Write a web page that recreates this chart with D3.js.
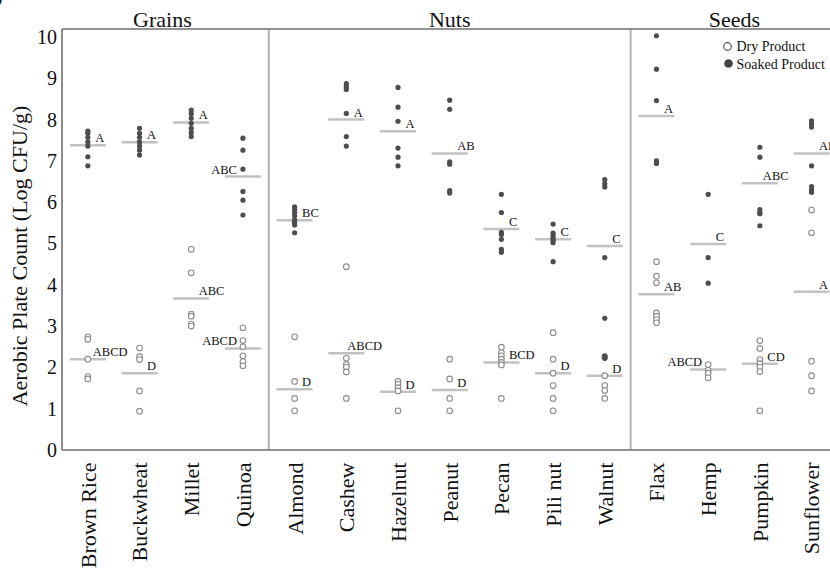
<!DOCTYPE html>
<html><head><meta charset="utf-8">
<script src="https://cdn.jsdelivr.net/npm/d3@7"></script>
<style>
body{margin:0;background:#fff}
svg{display:block}
svg text{font-family:'Liberation Serif','Tinos','Times New Roman','DejaVu Serif','Noto Serif',serif !important;fill:#111}
</style>
</head><body>
<svg id="c" width="830" height="568"></svg>
<script>
// ---------- data ----------
const categories = ["Brown Rice","Buckwheat","Millet","Quinoa","Almond","Cashew","Hazelnut","Peanut","Pecan","Pili nut","Walnut","Flax","Hemp","Pumpkin","Sunflower"];
const groupNames = ["Grains","Nuts","Seeds"];
const groupOf = ["Grains","Grains","Grains","Grains","Nuts","Nuts","Nuts","Nuts","Nuts","Nuts","Nuts","Seeds","Seeds","Seeds","Seeds"];

const dryValues = [
  [2.74,2.68,2.20,1.78,1.72],
  [2.47,2.26,2.19,1.43,0.94],
  [4.86,4.29,3.29,3.24,3.05,3.00],
  [2.96,2.65,2.50,2.28,2.14,2.04],
  [2.74,1.66,1.25,0.95],
  [4.44,2.22,2.07,2.01,1.89,1.25],
  [1.66,1.59,1.51,1.43,0.95],
  [2.20,1.72,1.25,0.95],
  [2.49,2.36,2.28,2.20,2.12,2.06,1.25],
  [2.84,2.20,1.86,1.56,1.25,0.95],
  [2.25,1.80,1.56,1.44,1.25],
  [4.56,4.21,4.05,3.32,3.24,3.16,3.08],
  [2.07,1.93,1.86,1.75],
  [2.65,2.46,2.19,2.09,2.01,1.90,0.95],
  [5.81,5.26,2.15,1.80,1.43]
];
const soakedValues = [
  [7.72,7.67,7.57,7.46,7.36,7.10,6.88],
  [7.79,7.67,7.57,7.46,7.36,7.26,7.14],
  [8.23,8.14,8.03,7.91,7.79,7.69,7.59],
  [7.55,7.26,6.80,6.26,6.05,5.69],
  [5.89,5.83,5.75,5.67,5.57,5.51,5.45,5.26],
  [8.87,8.80,8.73,8.15,7.59,7.36],
  [8.78,8.30,7.96,7.31,7.09,6.88],
  [8.47,8.25,6.98,6.92,6.28,6.22],
  [6.19,5.75,5.27,5.22,5.10,4.86,4.79],
  [5.47,5.25,5.18,5.13,5.07,5.02,4.56],
  [6.55,6.45,6.37,4.66,3.19,2.28,2.22],
  [10.03,9.22,8.46,7.00,6.94],
  [6.19,4.66,4.04],
  [7.33,7.09,5.82,5.75,5.72,5.43],
  [7.97,7.90,7.82,6.88,6.38,6.30,6.24]
];
const dryMeans    = [2.20,1.86,3.67,2.46,1.47,2.34,1.41,1.45,2.12,1.86,1.80,3.77,1.95,2.09,3.83];
const soakedMeans = [7.38,7.45,7.93,6.62,5.56,8.00,7.72,7.18,5.35,5.10,4.94,8.09,4.99,6.46,7.18];
const dryLetters    = ["ABCD","D","ABC","ABCD","D","ABCD","D","D","BCD","D","D","AB","ABCD","CD","A"];
const soakedLetters = ["A","A","A","ABC","BC","A","A","AB","C","C","C","A","C","ABC","AB"];
const yTicks = [0,1,2,3,4,5,6,7,8,9,10];
const legendItems = ["Dry Product","Soaked Product"];

// ---------- layout ----------
const FONT = "'Liberation Serif','Tinos','Times New Roman','DejaVu Serif','Noto Serif',serif";
const svg = d3.select("#c").attr("font-family", FONT);
const plotLeft = 62, plotTop = 29, plotBottom = 450, plotRight = 837.4;
const x = d3.scaleBand().domain(categories).range([plotLeft, plotRight]).paddingInner(0).paddingOuter(0);
const y = d3.scaleLinear().domain([0, 10]).range([plotBottom, 37]);
const cx = c => x(c) + x.bandwidth() / 2;

// group dividers
const groupStart = groupNames.map(g => categories[groupOf.indexOf(g)]);
const groupEnd = groupNames.map(g => categories[groupOf.lastIndexOf(g)]);
svg.selectAll("line.div").data(groupStart.slice(1)).join("line")
  .attr("x1", d => x(d)).attr("x2", d => x(d))
  .attr("y1", plotTop).attr("y2", plotBottom)
  .attr("stroke", "#b3b3b3").attr("stroke-width", 2);

// frame
svg.append("line").attr("x1", plotLeft).attr("x2", 830).attr("y1", plotTop).attr("y2", plotTop)
  .attr("stroke", "#6e6e6e").attr("stroke-width", 1.6);
svg.append("line").attr("x1", plotLeft).attr("x2", 830).attr("y1", plotBottom).attr("y2", plotBottom)
  .attr("stroke", "#6e6e6e").attr("stroke-width", 1.6);
svg.append("line").attr("x1", plotLeft).attr("x2", plotLeft).attr("y1", plotTop).attr("y2", plotBottom)
  .attr("stroke", "#6e6e6e").attr("stroke-width", 1.6);

// y axis
const yAxis = svg.append("g").attr("transform", `translate(${plotLeft},0)`)
  .call(d3.axisLeft(y).tickValues(yTicks).tickSize(0).tickPadding(5).tickFormat(d3.format("d")));
yAxis.attr("font-family", FONT);
yAxis.select(".domain").remove();
yAxis.selectAll("text").attr("font-size", 20).attr("fill", "#111");

// x axis labels
const xAxis = svg.append("g").attr("transform", `translate(0,${plotBottom})`)
  .call(d3.axisBottom(x).tickSize(0));
xAxis.attr("font-family", FONT);
xAxis.select(".domain").remove();
xAxis.selectAll("text").attr("font-size", 22).attr("fill", "#111")
  .attr("text-anchor", "end").attr("transform", "rotate(-90)")
  .attr("x", -12.5).attr("y", 0).attr("dy", "0.36em");

// y axis title
svg.append("text").attr("transform", "translate(27,256) rotate(-90)")
  .attr("text-anchor", "middle").attr("font-size", 22)
  .text("Aerobic Plate Count (Log CFU/g)");

// group titles
svg.selectAll("text.grp").data(groupNames).join("text")
  .attr("x", (g, i) => (x(groupStart[i]) + Math.min(830, x(groupEnd[i]) + x.bandwidth())) / 2 + (i === 0 ? -3 : i === 2 ? 4 : 0))
  .attr("y", 27).attr("text-anchor", "middle").attr("font-size", 22)
  .text(d => d);

// corner fragment of panel label
svg.append("text").attr("x", -4).attr("y", 3).attr("font-size", 20).text(")");

// mean lines
const means = [];
categories.forEach((c, i) => {
  means.push({c, type: "dry", v: dryMeans[i], lab: dryLetters[i]});
  means.push({c, type: "soaked", v: soakedMeans[i], lab: soakedLetters[i]});
});
svg.selectAll("line.mean").data(means).join("line")
  .attr("x1", d => cx(d.c) - 18).attr("x2", d => cx(d.c) + 18)
  .attr("y1", d => y(d.v)).attr("y2", d => y(d.v))
  .attr("stroke", "#c2c2c2").attr("stroke-width", 2.5);

// points
const dryPts = [], soakPts = [];
categories.forEach((c, i) => {
  dryValues[i].forEach(v => dryPts.push({c, v}));
  soakedValues[i].forEach(v => soakPts.push({c, v}));
});
svg.selectAll("circle.dry").data(dryPts).join("circle")
  .attr("cx", d => cx(d.c)).attr("cy", d => y(d.v)).attr("r", 2.8)
  .attr("fill", "#fff").attr("stroke", "#8a8a8a").attr("stroke-width", 1.1);
svg.selectAll("circle.soak").data(soakPts).join("circle")
  .attr("cx", d => cx(d.c)).attr("cy", d => y(d.v)).attr("r", 2.6)
  .attr("fill", "#4d4d4d");

// significance letters
const leftSide = new Set(["Quinoa|dry", "Quinoa|soaked", "Hemp|dry"]);
const nearOffset = {"Cashew|dry": 1, "Pumpkin|soaked": 3, "Brown Rice|dry": 5};
svg.selectAll("text.sig").data(means).join("text")
  .attr("x", d => {
    const k = d.c + "|" + d.type;
    if (leftSide.has(k)) return cx(d.c) - 6;
    return cx(d.c) + (k in nearOffset ? nearOffset[k] : 7.5);
  })
  .attr("y", d => y(d.v) - 3)
  .attr("text-anchor", d => leftSide.has(d.c + "|" + d.type) ? "end" : "start")
  .attr("font-size", 12.5)
  .text(d => d.lab);

// legend
const lg = svg.append("g");
lg.append("circle").attr("cx", 727.5).attr("cy", 46.5).attr("r", 3.8)
  .attr("fill", "#fff").attr("stroke", "#555").attr("stroke-width", 1.2);
lg.append("circle").attr("cx", 728.5).attr("cy", 63.5).attr("r", 4.3).attr("fill", "#444");
lg.selectAll("text").data(legendItems).join("text")
  .attr("x", 736.5).attr("y", (d, i) => 51 + i * 17.5)
  .attr("font-size", 14).text(d => d);
</script>
</body></html>
